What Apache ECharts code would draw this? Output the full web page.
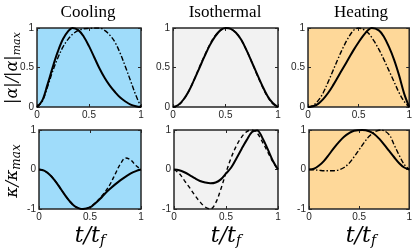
<!DOCTYPE html>
<html><head><meta charset="utf-8">
<script src="https://cdn.jsdelivr.net/npm/echarts@6/dist/echarts.min.js"></script>
<style>html,body{margin:0;padding:0;background:#fff}#c{width:415px;height:252px}</style>
</head><body><div id="c"></div>
<script>
// ---- data ----
const panelTitles = ['Cooling', 'Isothermal', 'Heating'];
const xTickValues = [0, 0.5, 1];
const alphaTickValues = [0, 0.5, 1];
const kappaTickValues = [-1, 0, 1];
const tStep = [0,0.05,0.1,0.15,0.2,0.25,0.3,0.35,0.4,0.45,0.5,0.55,0.6,0.65,0.7,0.75,0.8,0.85,0.9,0.95,1];

// Cooling |alpha|/|alpha|max
const coolAlphaSolidT = [0,0.05,0.1,0.15,0.2,0.25,0.3,0.34,0.4,0.45,0.5,0.55,0.6,0.65,0.7,0.75,0.8,0.85,0.9,0.95,1];
const coolAlphaSolid  = [0,0.08,0.28,0.5,0.7,0.86,0.96,1,0.97,0.89,0.77,0.63,0.49,0.37,0.27,0.19,0.12,0.07,0.03,0.01,0];
const coolAlphaDashT  = tStep;
const coolAlphaDash   = [0,0.07,0.25,0.45,0.62,0.76,0.86,0.93,0.97,0.99,0.995,1,1,0.97,0.91,0.82,0.68,0.51,0.33,0.15,0];

// Isothermal |alpha|/|alpha|max
const isoAlphaSolidT = tStep;
const isoAlphaSolid  = [0,0.025,0.095,0.2,0.34,0.49,0.64,0.78,0.89,0.97,1,0.99,0.94,0.85,0.72,0.57,0.42,0.27,0.14,0.05,0];
const isoAlphaDashT  = tStep;
const isoAlphaDash   = [0,0.02,0.09,0.2,0.34,0.5,0.65,0.79,0.9,0.97,1,0.99,0.94,0.85,0.72,0.57,0.41,0.26,0.13,0.04,0];

// Heating |alpha|/|alpha|max
const heatAlphaSolidT = [0,0.05,0.1,0.15,0.2,0.25,0.3,0.35,0.4,0.45,0.5,0.55,0.6,0.63,0.7,0.75,0.8,0.85,0.9,0.95,1];
const heatAlphaSolid  = [0,0.01,0.04,0.1,0.18,0.28,0.39,0.5,0.61,0.72,0.82,0.91,0.98,1,0.97,0.89,0.76,0.6,0.4,0.17,0];
const heatAlphaDashT  = tStep;
const heatAlphaDash   = [0,0.02,0.08,0.18,0.32,0.47,0.62,0.76,0.88,0.97,1,0.98,0.93,0.84,0.73,0.6,0.46,0.32,0.18,0.07,0];

// Cooling kappa/kappamax
const coolKappaSolidT = [0,0.05,0.1,0.15,0.2,0.25,0.3,0.35,0.4,0.43,0.5,0.55,0.6,0.65,0.7,0.75,0.8,0.85,0.9,0.95,1];
const coolKappaSolid  = [0,-0.03,-0.12,-0.26,-0.44,-0.63,-0.8,-0.93,-0.99,-1,-0.96,-0.86,-0.74,-0.6,-0.48,-0.37,-0.27,-0.18,-0.1,-0.04,0];
const coolKappaDashT  = coolKappaSolidT;
const coolKappaDash   = [0,-0.03,-0.12,-0.26,-0.44,-0.63,-0.8,-0.93,-0.99,-1,-0.95,-0.85,-0.72,-0.56,-0.36,-0.1,0.15,0.29,0.24,0.1,0];

// Isothermal kappa/kappamax
const isoKappaSolidT = tStep;
const isoKappaSolid  = [0,-0.02,-0.07,-0.14,-0.22,-0.29,-0.33,-0.35,-0.33,-0.25,-0.1,0.05,0.28,0.52,0.75,0.95,0.99,0.8,0.52,0.22,0];
const isoKappaDashT  = tStep;
const isoKappaDash   = [0,-0.1,-0.28,-0.46,-0.65,-0.82,-0.95,-1,-0.85,-0.5,-0.08,0.3,0.6,0.82,0.96,1,0.92,0.7,0.45,0.2,0];

// Heating kappa/kappamax
const heatKappaSolidT = [0,0.05,0.1,0.15,0.2,0.25,0.3,0.35,0.4,0.45,0.53,0.6,0.65,0.7,0.75,0.8,0.85,0.9,0.95,1];
const heatKappaSolid  = [0,0.02,0.1,0.22,0.38,0.55,0.7,0.83,0.92,0.98,1,0.97,0.9,0.78,0.63,0.47,0.31,0.16,0.05,0];
const heatKappaDashT  = [0,0.05,0.1,0.15,0.2,0.25,0.3,0.35,0.4,0.45,0.5,0.55,0.6,0.65,0.72,0.8,0.85,0.9,0.95,1];
const heatKappaDash   = [0,-0.01,-0.02,-0.03,-0.03,-0.03,-0.01,0.05,0.16,0.32,0.5,0.68,0.84,0.95,1,0.88,0.62,0.36,0.13,0];

// ---- build ----
const zip = (t, v) => t.map((x, i) => [x, v[i]]);
const panelBg = ['#9fdcfa', '#f2f2f2', '#fed899'];
const grids = [
  {left:37, top:28, width:104, height:79},
  {left:173, top:28, width:105, height:79},
  {left:308, top:28, width:105, height:79},
  {left:39, top:130, width:102, height:79},
  {left:174, top:130, width:104, height:79},
  {left:309, top:130, width:104, height:79}
];
const seriesData = [
  [coolAlphaSolidT, coolAlphaSolid, coolAlphaDashT, coolAlphaDash],
  [isoAlphaSolidT, isoAlphaSolid, isoAlphaDashT, isoAlphaDash],
  [heatAlphaSolidT, heatAlphaSolid, heatAlphaDashT, heatAlphaDash],
  [coolKappaSolidT, coolKappaSolid, coolKappaDashT, coolKappaDash],
  [isoKappaSolidT, isoKappaSolid, isoKappaDashT, isoKappaDash],
  [heatKappaSolidT, heatKappaSolid, heatKappaDashT, heatKappaDash]
];
const dashStyles = [[5,2,1.5,2],[4,3],[5,2,1.5,2],[4,2.5],[4,3],[5,2,1.5,2]];
const axisColor = '#262626';
const tickFont = {fontSize:10, color:axisColor, fontFamily:'Liberation Sans'};

const option = {animation:false, backgroundColor:'#fff', grid:[], xAxis:[], yAxis:[], series:[], graphic:[]};
grids.forEach((g, i) => {
  option.grid.push(Object.assign({show:true, backgroundColor:panelBg[i%3], borderColor:axisColor, borderWidth:1.5}, g));
  const yTicks = i < 3 ? alphaTickValues : kappaTickValues;
  const ymin = yTicks[0], ymax = yTicks[yTicks.length-1], yint = yTicks[1]-yTicks[0];
  const xmin = xTickValues[0], xmax = xTickValues[xTickValues.length-1], xint = xTickValues[1]-xTickValues[0];
  const tick = {show:true, inside:true, length:3, lineStyle:{color:axisColor, width:1}};
  const noLine = {show:false, onZero:false};
  option.xAxis.push({type:'value', gridIndex:i, position:'bottom', min:xmin, max:xmax, interval:xint,
    axisLine:noLine, axisTick:tick, splitLine:{show:false},
    axisLabel:Object.assign({margin:3}, tickFont)});
  option.xAxis.push({type:'value', gridIndex:i, position:'top', min:xmin, max:xmax, interval:xint,
    axisLine:noLine, axisTick:tick, splitLine:{show:false}, axisLabel:{show:false}});
  option.yAxis.push({type:'value', gridIndex:i, position:'left', min:ymin, max:ymax, interval:yint,
    axisLine:noLine, axisTick:tick, splitLine:{show:false},
    axisLabel:Object.assign({margin:3}, tickFont)});
  option.yAxis.push({type:'value', gridIndex:i, position:'right', min:ymin, max:ymax, interval:yint,
    axisLine:noLine, axisTick:tick, splitLine:{show:false}, axisLabel:{show:false}});
  const d = seriesData[i];
  option.series.push({type:'line', xAxisIndex:2*i, yAxisIndex:2*i, data:zip(d[2], d[3]), smooth:0.35,
    symbol:'none', silent:true, z:3, lineStyle:{color:'#000', width:1.4, type:dashStyles[i]}});
  option.series.push({type:'line', xAxisIndex:2*i, yAxisIndex:2*i, data:zip(d[0], d[1]), smooth:0.35,
    symbol:'none', silent:true, z:4, lineStyle:{color:'#000', width:2}});
});

const titleX = [88, 225, 361];
panelTitles.forEach((t, i) => {
  option.graphic.push({type:'text', x:titleX[i], y:13, silent:true,
    style:{text:t, fontSize:17, fontFamily:'Liberation Serif', fill:'#000', align:'center', verticalAlign:'middle'}});
});
const mathFont = 'DejaVu Serif';
option.graphic.push({type:'text', x:13, y:68, rotation:Math.PI/2, silent:true,
  style:{text:'{m||α|/|α|}{s|max}', align:'center', verticalAlign:'middle', fill:'#000',
    rich:{m:{fontSize:16, fontFamily:mathFont, fontStyle:'italic', lineHeight:20, verticalAlign:'middle'},
          s:{fontSize:11, fontFamily:mathFont, fontStyle:'italic', lineHeight:11, verticalAlign:'bottom', padding:[6,0,0,0]}}}});
option.graphic.push({type:'text', x:13, y:171, rotation:Math.PI/2, silent:true,
  style:{text:'{m|κ/κ}{s|max}', align:'center', verticalAlign:'middle', fill:'#000',
    rich:{m:{fontSize:17, fontFamily:mathFont, fontStyle:'italic', lineHeight:20, verticalAlign:'middle'},
          s:{fontSize:12, fontFamily:mathFont, fontStyle:'italic', lineHeight:12, verticalAlign:'bottom', padding:[6,0,0,0]}}}});
const xLabelX = [90, 226, 361];
xLabelX.forEach(x => {
  option.graphic.push({type:'text', x:x, y:236, silent:true,
    style:{text:'{m|t/t}{s|f}', align:'center', verticalAlign:'middle', fill:'#000',
      rich:{m:{fontSize:22, fontFamily:mathFont, fontStyle:'italic', lineHeight:24, verticalAlign:'middle'},
            s:{fontSize:14, fontFamily:mathFont, fontStyle:'italic', lineHeight:14, verticalAlign:'bottom', padding:[8,0,0,0]}}}});
});

const chart = echarts.init(document.getElementById('c'), null, {renderer:'canvas'});
chart.setOption(option);
</script>
</body></html>
